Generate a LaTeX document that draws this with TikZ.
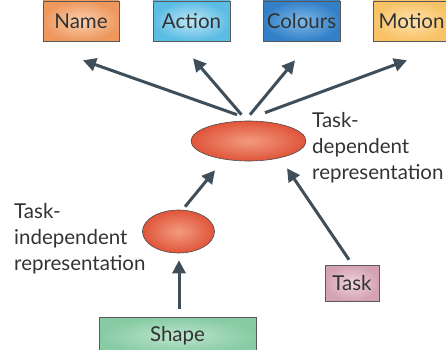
\documentclass[tikz,border=0pt]{standalone}
\usepackage{fontspec}
\setmainfont{Lato}
\usetikzlibrary{arrows.meta,shapes.geometric}

\definecolor{arrowgrey}{HTML}{3E4F5B}
\definecolor{textgrey}{HTML}{333333}
\definecolor{blobred}{HTML}{E0553A}
\definecolor{blobin}{HTML}{F29A7E}

\tikzset{
  box/.style={rectangle,draw=black!65,line width=0.6pt,inner sep=0pt,
    minimum height=40pt,text=textgrey,font=\fontsize{20.5}{24}\selectfont},
  blob/.style={ellipse,draw=black!70,line width=0.6pt,inner sep=0pt,
    inner color=blobin,outer color=blobred},
  lbl/.style={align=left,inner sep=0pt,text=textgrey,
    font=\fontsize{20.5}{26}\selectfont},
  arr/.style={draw=arrowgrey,line width=3pt,-{Triangle[length=13pt,width=13pt]}}
}

\begin{document}
\begin{tikzpicture}[x=1pt,y=1pt]
\useasboundingbox (0,0) rectangle (446,349);
\node[box,minimum width=76pt,inner color={rgb,255:red,250;green,208;blue,176},outer color={rgb,255:red,238;green,152;blue,94}] (name) at (81,328) {Name};
\node[box,minimum width=77pt,inner color={rgb,255:red,191;green,230;blue,246},outer color={rgb,255:red,91;green,188;blue,228}] (action) at (191.5,328) {Action};
\node[box,minimum width=77pt,inner color={rgb,255:red,125;green,185;blue,232},outer color={rgb,255:red,52;green,128;blue,200}] (colours) at (301.5,328) {Colours};
\node[box,minimum width=77pt,inner color={rgb,255:red,253;green,226;blue,174},outer color={rgb,255:red,249;green,194;blue,102}] (motion) at (411.5,328) {Motion};

\node[blob,minimum width=115pt,minimum height=40pt] (dep) at (248.5,208) {};
\node[blob,minimum width=72pt,minimum height=43pt] (indep) at (178.5,117.5) {};

\node[box,minimum width=54pt,minimum height=36pt,inner color={rgb,255:red,239;green,212;blue,220},outer color={rgb,255:red,212;green,162;blue,178}] (task) at (352,66) {Task};
\node[box,minimum width=157pt,minimum height=38pt,inner color={rgb,255:red,189;green,228;blue,204},outer color={rgb,255:red,134;green,203;blue,163}] (shape) at (177.5,13) {Shape};

\node[lbl,anchor=north west] (deplabel) at (312,237) {Task-\\dependent\\representation};
\node[lbl,anchor=north west] (indeplabel) at (14,146) {Task-\\independent\\representation};

% arrows up to the four boxes
\draw[arr] ([shift={(-11.5,6)}]dep.north) -- ([shift={(2,-19)}]name.south);
\draw[arr] ([shift={(-7,6)}]dep.north) -- ([shift={(1.5,-17)}]action.south);
\draw[arr] ([shift={(1.5,6)}]dep.north) -- ([shift={(-6.5,-19)}]colours.south);
\draw[arr] ([shift={(16.5,8)}]dep.north) -- ([shift={(-4.5,-19)}]motion.south);

\draw[arr] ([shift={(6.5,3)}]indep.north) -- ([shift={(-33.5,-9)}]dep.south);
\draw[arr] ([shift={(-3,5)}]task.north) -- ([shift={(38.5,-7)}]dep.south);
\draw[arr] ([shift={(1.5,8)}]shape.north) -- ([shift={(0.5,-7)}]indep.south);
\end{tikzpicture}
\end{document}
